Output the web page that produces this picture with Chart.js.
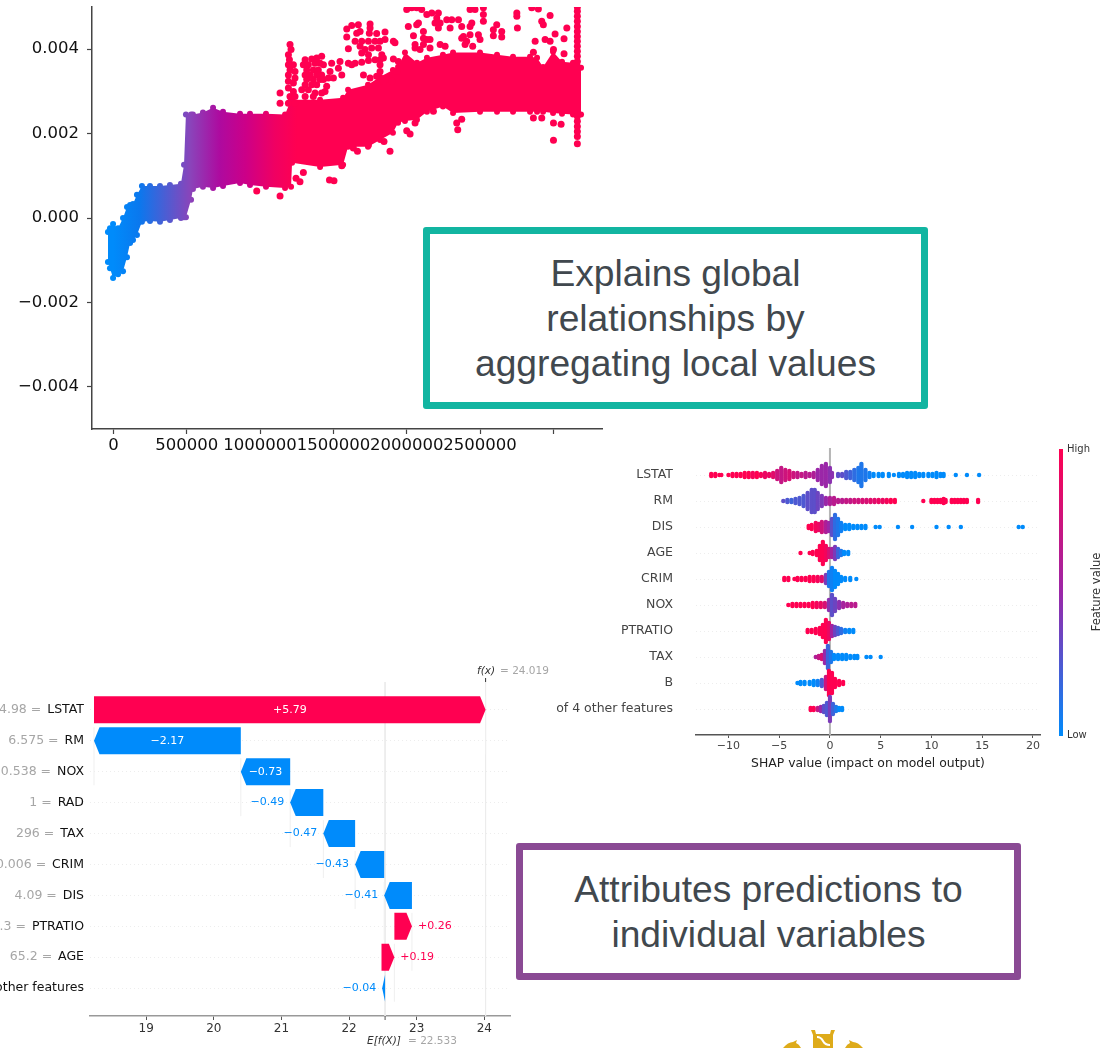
<!DOCTYPE html>
<html>
<head>
<meta charset="utf-8">
<title>SHAP charts</title>
<script src="https://cdn.jsdelivr.net/npm/chart.js@4/dist/chart.umd.min.js"></script>
<style>
html, body { margin: 0; padding: 0; background: #fff; }
body { position: relative; width: 1114px; height: 1048px; overflow: hidden; }
.plot { position: absolute; filter: blur(0.6px); }
.plot canvas { display: block; }
.box { position: absolute; box-sizing: border-box; background: #fff; border-radius: 3px;
  font-family: "Liberation Sans", Arial, sans-serif; color: #41484e; text-align: center; }
#box-global { left: 423px; top: 227px; width: 505px; height: 182px; border: 7px solid #12b5a1;
  font-size: 37.2px; line-height: 45px; padding-top: 17px; }
#box-local { left: 516px; top: 843px; width: 505px; height: 137px; border: 7px solid #8a4a94;
  font-size: 37.2px; line-height: 45px; padding-top: 17px; }
.cbar { position: absolute; left: 1059px; top: 449px; width: 4px; height: 287px;
  background: linear-gradient(#ff0051, #9b27a8 50%, #008bfb); }
.small { position: absolute; font: 10px "DejaVu Sans", sans-serif; color: #333; }
#feature-label { left: 1051px; top: 585px; width: 90px; text-align: center; transform: rotate(-90deg); font-size: 11.5px; }
svg { position: absolute; left: 780px; top: 1025px; }
</style>
</head>
<body>
<div class="plot" style="left:0;top:0"><canvas id="dependence" width="620" height="470"></canvas></div>
<div class="plot" style="left:0;top:660px"><canvas id="waterfall" width="570" height="388"></canvas></div>
<div class="plot" style="left:540px;top:430px"><canvas id="beeswarm" width="520" height="350"></canvas></div>
<div class="cbar"></div>
<div class="small" style="left:1067px;top:443px">High</div>
<div class="small" style="left:1067px;top:729px">Low</div>
<div class="small" id="feature-label">Feature value</div>
<div class="box" id="box-global">Explains global<br>relationships by<br>aggregating local values</div>
<div class="box" id="box-local">Attributes predictions to<br>individual variables</div>
<svg width="90" height="23" viewBox="0 0 90 23">
  <path d="M31 5h4l1 4h14l1-4h4l-2 5v13H33V10z M3 23q5-6 10-6l4-2-1 3q3 1 5 5z M83 23q-5-6-10-6l-4-2 1 3q-3 1-5 5z" fill="#deab1a"/>
  <path d="M37 12q4 0 6 4t7 4" fill="none" stroke="#fff" stroke-width="2"/>
</svg>

<script>
// top plot: dependence scatter
const depTicksX = [0, 500000, 1000000, 1500000, 2000000, 2500000, 3000000];
const depTickLabelsX = ["0", "500000", "1000000", "1500000", "2000000", "2500000", ""];
const depTicksY = [-0.004, -0.002, 0, 0.002, 0.004];

const bandX = [-38000, -24000, -3000, 31000, 65000, 92000, 113000, 133000, 160000, 194000, 249000, 317000, 385000, 460000, 481000, 494000, 529000, 542000, 610000, 679000, 747000, 863000, 931000, 1040000, 1170000, 1211000, 1218000, 1409000, 1566000, 1600000, 1736000, 1818000, 1906000, 1941000, 1988000, 2070000, 2138000, 2247000, 2316000, 2500000, 2616000, 2725000, 2841000, 2889000, 2930000, 2998000, 3059000, 3134000, 3189000];
const bandUpper = [-0.00033, -0.00024, -0.00014, -0.00024, 0, 0.00026, 0.00031, 0.00033, 0.00055, 0.00076, 0.00076, 0.00076, 0.00078, 0.00081, 0.00126, 0.00245, 0.00245, 0.00245, 0.0025, 0.00261, 0.00252, 0.00247, 0.00247, 0.00247, 0.00245, 0.0028, 0.0028, 0.0028, 0.00285, 0.00304, 0.00316, 0.00335, 0.00351, 0.00358, 0.00392, 0.00368, 0.0038, 0.00387, 0.00392, 0.00392, 0.00387, 0.00382, 0.00382, 0.0038, 0.00358, 0.00394, 0.0037, 0.00368, 0.00356];
const bandLower = [-0.00104, -0.00119, -0.00142, -0.00133, -0.00126, -0.00093, -0.00059, -0.00052, -0.0004, -0.00009, -0.00007, -0.00009, -0.00005, 0, 0.00002, 0.00002, 0.00043, 0.00069, 0.00074, 0.00071, 0.00076, 0.00083, 0.00078, 0.00074, 0.00071, 0.00074, 0.00131, 0.00121, 0.00126, 0.00169, 0.00169, 0.00185, 0.00202, 0.00226, 0.0023, 0.00233, 0.00252, 0.00264, 0.00249, 0.00252, 0.00252, 0.00252, 0.00252, 0.00252, 0.00252, 0.00249, 0.00247, 0.00245, 0.00245];

const depOutliers = [
  [2000000,0.00494],[2034000,0.00498],[2068000,0.00498],[2102000,0.00494],[2080000,0.00462],[2068000,0.00458],[2137000,0.00482],[2171000,0.00486],[2216000,0.00486],[2205000,0.00474],[2193000,0.00462],[2228000,0.00462],[2216000,0.0045],[2273000,0.0047],[2307000,0.0047],[2296000,0.0045],[2353000,0.0047],[2375000,0.00454],[2432000,0.00494],[2466000,0.00494],[2523000,0.00498],[2523000,0.00482],[2523000,0.00466],[2444000,0.00462],[2432000,0.00454],
  [2751000,0.00486],[2751000,0.00478],[2755000,0.0045],[2853000,0.00498],[2898000,0.00495],[2978000,0.0048],[2921000,0.00466],[2932000,0.00458],[3092000,0.0045],[2614000,0.00458],[2591000,0.00446],[2648000,0.00442],[2648000,0.00429],[2591000,0.00432],[3012000,0.00436],[3073000,0.00425],[2876000,0.00419],[2944000,0.00423],[2978000,0.00419],[3073000,0.00389],[2864000,0.00393],[3001000,0.00399],
  [2011000,0.00454],[2046000,0.00432],[2114000,0.00442],[2114000,0.00426],[2137000,0.00423],[2057000,0.00411],[2057000,0.00403],[2114000,0.00411],[2159000,0.00423],[2159000,0.00403],[2091000,0.00399],[2228000,0.00411],[2262000,0.00407],[2387000,0.0043],[2432000,0.00434],[2375000,0.00426],[2409000,0.00419],[2489000,0.00434],[2500000,0.00423],[2450000,0.00407],[2398000,0.00411],
  [1591000,0.00448],[1625000,0.00456],[1670000,0.00458],[1682000,0.00442],[1591000,0.00429],[1659000,0.00438],[1750000,0.0046],[1750000,0.0045],[1745000,0.00438],[1795000,0.00437],[1852000,0.00441],[1648000,0.00419],[1693000,0.00419],[1739000,0.00419],[1784000,0.00419],[1818000,0.00419],[1852000,0.00423],[1909000,0.00419],[1920000,0.00415],[1602000,0.00401],[1682000,0.00407],[1716000,0.00399],[1761000,0.00403],[1807000,0.00403],[1693000,0.00391],[1830000,0.00387],[1739000,0.00387],
  [1488000,0.00367],[1545000,0.00371],[1602000,0.00367],[1648000,0.00367],[1693000,0.00369],[1739000,0.00373],[1784000,0.00375],[1818000,0.00375],[1841000,0.00379],[1909000,0.00377],[1943000,0.00371],[1477000,0.00347],[1534000,0.00355],[1500000,0.00332],[1466000,0.00332],[1625000,0.00363],[1557000,0.00339],[1705000,0.00339],[1750000,0.00332],[1818000,0.00363],[1818000,0.00347],[1795000,0.00336],[1875000,0.00328],[1898000,0.00324],[1932000,0.00347],[1841000,0.00324],
  [1307000,0.00375],[1352000,0.00377],[1386000,0.00379],[1420000,0.00383],[1295000,0.00363],[1329000,0.00363],[1375000,0.00367],[1409000,0.00367],[1432000,0.00363],[1318000,0.00351],[1363000,0.00351],[1397000,0.00351],[1307000,0.00339],[1341000,0.00339],[1386000,0.00339],[1420000,0.00339],[1318000,0.00328],[1363000,0.00328],[1409000,0.00328],[1432000,0.00328],[1307000,0.00316],[1352000,0.00316],[1386000,0.00316],[1284000,0.00304],[1329000,0.00304],[1375000,0.00296],[1420000,0.00296],[1307000,0.00288],[1363000,0.00288],[1454000,0.00312],[1443000,0.003],
  [1204000,0.00411],[1211000,0.00399],[1193000,0.00387],[1200000,0.00375],[1193000,0.00363],[1227000,0.00363],[1204000,0.00351],[1238000,0.00347],[1193000,0.00339],[1238000,0.00332],[1193000,0.00324],[1227000,0.0032],[1193000,0.00308],[1227000,0.003],[1204000,0.00288],[1238000,0.00288],[1193000,0.00272],[1238000,0.00272],[1136000,0.00296],[1136000,0.00272],
  [1136000,0.00052],[1245000,0.00094],[1272000,0.00086],[1295000,0.00108],[1473000,0.0009],[1504000,0.00088],[1557000,0.00124],[1636000,0.00166],[1664000,0.00158],[1739000,0.00173],[1886000,0.00158],[1845000,0.00181],[2000000,0.00207],[2023000,0.00199],[2057000,0.00225],[2375000,0.00234],[2341000,0.00225],[2348000,0.00209],[2864000,0.00237],[2921000,0.00237],[3001000,0.00225],[3053000,0.00222],[3001000,0.00184],[2182000,0.00253],[977000,0.00064],
  [3164000,0.005],[3164000,0.0049],[3164000,0.00478],[3164000,0.00466],[3164000,0.00454],[3164000,0.00442],[3164000,0.0043],[3164000,0.00419],[3164000,0.00407],[3164000,0.00395],[3164000,0.00383],[3164000,0.00371],[3164000,0.00359],[3164000,0.00241],[3164000,0.00229],[3164000,0.00217],[3164000,0.00205],[3164000,0.00193],[3164000,0.00176]
];

// bottom left plot: waterfall
const wfFeatures = ["LSTAT", "RM", "NOX", "RAD", "TAX", "CRIM", "DIS", "PTRATIO", "AGE", "4 other features"];
const wfValues = ["4.98", "6.575", "0.538", "1", "296", "0.006", "4.09", "15.3", "65.2", ""];
const wfStart = [18.229, 20.4, 21.13, 21.62, 22.09, 22.52, 22.93, 22.67, 22.48, 22.533];
const wfEnd = [24.019, 18.229, 20.4, 21.13, 21.62, 22.09, 22.52, 22.93, 22.67, 22.49];
const wfLabels = ["+5.79", "\u22122.17", "\u22120.73", "\u22120.49", "\u22120.47", "\u22120.43", "\u22120.41", "+0.26", "+0.19", "\u22120.04"];
const wfTicks = [19, 20, 21, 22, 23, 24];
const fxValue = 24.019;
const baseValue = 22.533;

// right plot: beeswarm, each column is [shap value, dots stacked, feature value]
const bsFeatures = ["LSTAT", "RM", "DIS", "AGE", "CRIM", "NOX", "PTRATIO", "TAX", "B", "of 4 other features"];
const bsTicks = [-10, -5, 0, 5, 10, 15, 20];
const lstatCols = [[-11.7,2,1],[-11.3,2,1],[-10.9,1,1],[-10.7,1,1],[-10,1,1],[-9.6,2,1],[-9.2,2,1],[-8.8,2,1],[-8.4,3,1],[-8,3,1],[-7.6,3,.95],[-7.2,3,1],[-6.8,2,.95],[-6.4,3,.9],[-6,2,.9],[-5.6,3,.85],[-5.2,5,.75],[-4.8,8,.7],[-4.4,6,.75],[-4,5,.8],[-3.6,3,.75],[-3.2,3,.7],[-2.8,2,.7],[-2.4,3,.65],[-2,2,.65],[-1.6,3,.6],[-1.2,6,.5],[-.8,10,.5],[-.4,12,.5],[0,8,.45],[.2,3,.45],[.8,2,.3],[1.2,2,.3],[1.6,4,.25],[2,4,.2],[2.4,6,.15],[2.8,8,.1],[3.1,12,.1],[3.5,6,.1],[3.9,3,.05],[4.3,2,0],[4.8,2,0],[5.2,2,0],[5.8,2,0],[6.3,1,0],[6.8,2,0],[7.2,2,0],[7.6,3,0],[8,3,0],[8.4,3,0],[8.8,2,0],[9.2,2,0],[9.7,2,0],[10.1,2,0],[10.5,3,0],[10.9,2,0],[11.2,2,0],[12.4,1,0],[13.5,1,0],[14.7,1,0]];
const rmCols = [[-4.6,1,.3],[-4.2,2,.25],[-3.8,2,.2],[-3.4,3,.25],[-3,4,.25],[-2.6,6,.25],[-2.2,9,.3],[-1.8,12,.3],[-1.5,12,.3],[-1.2,9,.35],[-.8,6,.4],[-.4,4,.5],[0,4,.6],[.4,4,.65],[.8,2,.65],[1.2,2,.65],[1.6,2,.7],[2,2,.7],[2.4,2,.75],[2.8,2,.75],[3.2,2,.8],[3.6,2,.8],[4,2,.85],[4.4,2,.85],[4.8,2,.9],[5.2,2,.9],[5.6,2,.95],[6,2,1],[6.4,2,1],[9.2,1,1],[10,2,1],[10.3,2,1],[10.6,2,1],[10.9,2,1],[11.2,3,1],[11.4,2,1],[12,2,1],[12.3,2,1],[12.6,2,1],[12.9,2,1],[13.2,2,1],[13.5,2,1],[14.6,2,1]];
const disCols = [[-2.1,2,1],[-1.8,3,1],[-1.4,5,.95],[-1.1,4,.9],[-.8,6,.75],[-.4,6,.6],[-.1,5,.5],[.2,9,.3],[.5,13,.15],[.8,9,.1],[1.1,5,.05],[1.5,3,0],[1.9,3,0],[2.3,2,0],[2.7,2,0],[3.1,2,0],[3.5,2,0],[4.5,1,0],[4.9,1,0],[6.7,1,0],[8.1,1,0],[10.5,1,0],[11.7,1,0],[12.9,1,0],[18.6,1,0],[19,1,0]];
const ageCols = [[-2.9,1,1],[-2,1,1],[-1.7,2,1],[-1.3,3,1],[-1,8,1],[-.7,12,1],[-.4,8,.95],[-.1,5,.8],[.2,5,.55],[.5,7,.4],[.8,5,.2],[1.1,3,.1],[1.4,2,0],[1.8,2,0]];
const crimCols = [[-4.5,2,1],[-4.1,2,1],[-3.5,1,1],[-3.2,2,1],[-2.8,2,1],[-2.4,2,1],[-2,3,1],[-1.6,3,1],[-1.2,3,.95],[-.8,3,.85],[-.4,5,.4],[-.1,8,.1],[.2,12,.05],[.5,9,0],[.8,6,0],[1.1,3,0],[1.5,2,0],[2,2,0],[2.6,1,0]];
const noxCols = [[-4.1,1,1],[-3.7,2,1],[-3.3,2,1],[-2.9,2,1],[-2.5,2,1],[-2.1,2,1],[-1.7,3,1],[-1.3,3,.95],[-.9,3,.9],[-.5,3,.8],[-.1,6,.45],[.2,11,.3],[.5,7,.35],[.9,4,.45],[1.3,3,.55],[1.7,2,.6],[2.1,2,.65],[2.5,2,.65]];
const ptratioCols = [[-2.2,2,1],[-1.8,2,1],[-1.4,3,1],[-1,4,1],[-.7,7,1],[-.4,12,1],[-.1,9,.9],[.2,6,.55],[.5,5,.35],[.8,4,.25],[1.1,3,.15],[1.5,2,.05],[1.9,2,0],[2.3,2,0]];
const taxCols = [[-1.4,1,.6],[-1.1,2,.7],[-.8,3,.8],[-.5,7,.5],[-.2,12,.2],[.1,6,.1],[.4,3,0],[.8,3,0],[1.2,3,0],[1.6,3,0],[2,2,0],[2.4,2,0],[2.7,2,0],[3.6,1,0],[4,1,0],[5,1,0]];
const bCols = [[-3.2,1,0],[-2.9,2,0],[-2.5,2,0],[-2,2,0],[-1.6,3,0],[-1.2,3,.05],[-.8,4,.25],[-.4,7,.75],[-.1,13,1],[.2,11,1],[.5,5,1],[.9,3,1],[1.3,2,1]];
const otherCols = [[-1.9,2,1],[-1.6,2,1],[-1.2,2,.7],[-.9,3,.5],[-.6,4,.3],[-.3,7,.25],[0,13,.4],[.3,6,.2],[.6,3,.1],[.9,2,0],[1.2,2,0]];
const bsRows = [lstatCols, rmCols, disCols, ageCols, crimCols, noxCols, ptratioCols, taxCols, bCols, otherCols];

const RED = "#ff0051";
const BLUE = "#008bfb";
const AXIS_FONT = "DejaVu Sans";

// same blue > purple > red ramp shap uses
function featureColor(v) {
    let a = v < 0.5 ? [0, 139, 251] : [155, 39, 168];
    let b = v < 0.5 ? [155, 39, 168] : [255, 0, 81];
    let t = v < 0.5 ? v * 2 : (v - 0.5) * 2;
    return `rgb(${a.map((c, i) => Math.round(c + (b[i] - c) * t)).join(",")})`;
}

function bandGradient(chart) {
    let xs = chart.scales.x;
    if (!xs) return RED;
    let x0 = xs.getPixelForValue(0);
    let x1 = xs.getPixelForValue(1250000);
    if (!isFinite(x0) || !isFinite(x1)) return RED;
    let g = chart.ctx.createLinearGradient(x0, 0, x1, 0);
    g.addColorStop(0, BLUE);
    g.addColorStop(0.14, "#0a78ee");
    g.addColorStop(0.42, "#8a44ba");
    g.addColorStop(0.58, "#ae0a9f");
    g.addColorStop(0.72, "#cc0088");
    g.addColorStop(0.88, "#f00062");
    g.addColorStop(1, RED);
    return g;
}

// y axes keep the plot area exactly where the labels were not asked to move it
function fitY(width) {
    return s => { s.width = width; s.paddingTop = 0; s.paddingBottom = 0; };
}

let depChart = new Chart(document.getElementById("dependence"), {
    type: "scatter",
    data: {
        datasets: [
            {
                data: bandX.map((x, i) => ({ x: x, y: bandUpper[i] })), showLine: true, borderWidth: 0,
                pointRadius: 3, pointBackgroundColor: c => bandGradient(c.chart), pointBorderWidth: 0,
                backgroundColor: c => bandGradient(c.chart), order: 2
            },
            {
                data: bandX.map((x, i) => ({ x: x, y: bandLower[i] })), showLine: true, borderWidth: 0, fill: "-1",
                pointRadius: 3, pointBackgroundColor: c => bandGradient(c.chart), pointBorderWidth: 0,
                backgroundColor: c => bandGradient(c.chart), order: 2
            },
            {
                data: depOutliers.map(p => ({ x: p[0], y: p[1] })), pointRadius: 3.5, pointBorderWidth: 0,
                pointBackgroundColor: RED, order: 1
            }
        ]
    },
    options: {
        responsive: false, animation: false,
        layout: { padding: { top: 7, right: 18, bottom: 0, left: 0 } },
        plugins: { legend: { display: false }, tooltip: { enabled: false } },
        scales: {
            x: {
                type: "linear", min: -146650, max: 3332000,
                afterBuildTicks: s => { s.ticks = depTicksX.map(v => ({ value: v })); },
                afterFit: s => { s.height = 41; },
                grid: { drawOnChartArea: false, tickLength: 5, tickColor: "#444", tickWidth: 1.2 },
                border: { color: "#444", width: 1.5 },
                ticks: { autoSkip: false, maxRotation: 0, padding: 2, color: "#111", font: { family: AXIS_FONT, size: 16.5 },
                    callback: v => depTickLabelsX[depTicksX.indexOf(v)] }
            },
            y: {
                min: -0.005, max: 0.005,
                afterBuildTicks: s => { s.ticks = depTicksY.map(v => ({ value: v })); },
                afterFit: fitY(92),
                grid: { drawOnChartArea: false, tickLength: 5, tickColor: "#444", tickWidth: 1.2 },
                border: { color: "#444", width: 1.5 },
                ticks: { padding: 8, color: "#111", font: { family: AXIS_FONT, size: 16.5 },
                    callback: v => v.toFixed(3).replace("-", "\u2212") }
            }
        }
    }
});
depChart.update();

// draws the waterfall bars as arrows, and the grey parts of the labels
const waterfallPlugin = {
    id: "waterfallArrows",
    beforeDatasetDraw(chart, args) {
        if (args.index !== 0) return;
        let ctx = chart.ctx;
        let bars = chart.getDatasetMeta(0).data;
        bars.forEach((bar, i) => {
            let h = 13.5;
            let from = chart.scales.x.getPixelForValue(wfStart[i]);
            let to = chart.scales.x.getPixelForValue(wfEnd[i]);
            let dir = to > from ? 1 : -1;
            let tip = Math.min(5.5, Math.abs(to - from));
            ctx.save();
            // faint connector down to the next row
            if (i < bars.length - 1) {
                ctx.strokeStyle = "#efefef";
                ctx.lineWidth = 1;
                ctx.beginPath();
                ctx.moveTo(to, bar.y - h);
                ctx.lineTo(to, bar.y + 31 + h);
                ctx.stroke();
            }
            ctx.fillStyle = wfEnd[i] > wfStart[i] ? RED : BLUE;
            ctx.beginPath();
            ctx.moveTo(from, bar.y - h);
            ctx.lineTo(to - dir * tip, bar.y - h);
            ctx.lineTo(to, bar.y);
            ctx.lineTo(to - dir * tip, bar.y + h);
            ctx.lineTo(from, bar.y + h);
            ctx.closePath();
            ctx.fill();
            ctx.restore();
        });
        return false;
    },
    afterDraw(chart) {
        let ctx = chart.ctx;
        let xs = chart.scales.x;
        let ys = chart.scales.y;
        ctx.save();
        ctx.textBaseline = "middle";
        // value text inside or beside each arrow
        ctx.font = `11px "${AXIS_FONT}"`;
        wfLabels.forEach((txt, i) => {
            let y = ys.getPixelForValue(i);
            let lo = xs.getPixelForValue(Math.min(wfStart[i], wfEnd[i]));
            let hi = xs.getPixelForValue(Math.max(wfStart[i], wfEnd[i]));
            let w = ctx.measureText(txt).width;
            if (hi - lo > w + 10) {
                ctx.fillStyle = "#fff";
                ctx.textAlign = "center";
                ctx.fillText(txt, (lo + hi) / 2, y);
            } else if (wfEnd[i] > wfStart[i]) {
                ctx.fillStyle = RED;
                ctx.textAlign = "left";
                ctx.fillText(txt, hi + 6, y);
            } else {
                ctx.fillStyle = BLUE;
                ctx.textAlign = "right";
                ctx.fillText(txt, lo - 6, y);
            }
        });
        // grey "value =" in front of each feature name
        ctx.font = `12.5px "${AXIS_FONT}"`;
        ctx.textAlign = "right";
        ctx.fillStyle = "#a6a6a6";
        wfFeatures.forEach((name, i) => {
            if (!wfValues[i]) return;
            ctx.fillText(wfValues[i] + " = ", 84 - ctx.measureText(name).width - 2, ys.getPixelForValue(i));
        });
        // f(x) and E[f(X)]
        ctx.textAlign = "left";
        let fx = xs.getPixelForValue(fxValue);
        ctx.fillStyle = "#333";
        ctx.font = `italic 10.5px "${AXIS_FONT}"`;
        ctx.fillText("f(x)", 477, 11);
        ctx.font = `10.5px "${AXIS_FONT}"`;
        ctx.fillStyle = "#a6a6a6";
        ctx.fillText("= " + fxValue, 500, 11);
        ctx.fillStyle = "#333";
        ctx.fillRect(fx - 0.5, 18, 1, 4);
        ctx.font = `italic 10.5px "${AXIS_FONT}"`;
        ctx.fillText("E[f(X)]", 367, 381);
        ctx.font = `10.5px "${AXIS_FONT}"`;
        ctx.fillStyle = "#a6a6a6";
        ctx.fillText("= " + baseValue, 408, 381);
        ctx.fillStyle = "#555";
        ctx.fillRect(xs.getPixelForValue(baseValue) - 0.5, 356, 1, 4);
        ctx.restore();
    }
};

new Chart(document.getElementById("waterfall"), {
    type: "bar",
    plugins: [waterfallPlugin],
    data: {
        datasets: [
            {
                data: wfStart.map((s, i) => ({ x: [s, wfEnd[i]], y: i })), barThickness: 27,
                backgroundColor: wfStart.map((s, i) => wfEnd[i] > s ? RED : BLUE)
            },
            { type: "scatter", data: [{ x: fxValue, y: -0.9 }, { x: fxValue, y: 9.9 }], showLine: true, pointRadius: 0, borderColor: "#ececec", borderWidth: 1 },
            { type: "scatter", data: [{ x: baseValue, y: -0.9 }, { x: baseValue, y: 9.9 }], showLine: true, pointRadius: 0, borderColor: "#ececec", borderWidth: 1 }
        ]
    },
    options: {
        indexAxis: "y", responsive: false, animation: false,
        layout: { padding: { top: 22, right: 60, bottom: 0, left: 0 } },
        plugins: { legend: { display: false }, tooltip: { enabled: false } },
        scales: {
            x: {
                type: "linear", min: 18.17, max: 24.38,
                afterBuildTicks: s => { s.ticks = wfTicks.map(v => ({ value: v })); },
                afterFit: s => { s.height = 32; },
                grid: { drawOnChartArea: false, tickLength: 4, tickColor: "#555" },
                border: { color: "#999", width: 1.5 },
                ticks: { padding: 2, color: "#333", font: { family: AXIS_FONT, size: 12 } }
            },
            y: {
                type: "linear", min: -0.9, max: 9.9, reverse: true, offset: false,
                afterBuildTicks: s => { s.ticks = wfFeatures.map((f, i) => ({ value: i })); },
                afterFit: fitY(90),
                grid: { color: "#ededed", tickLength: 0, drawTicks: false, offset: false },
                border: { display: false, dash: [1, 3] },
                ticks: { padding: 6, color: "#111", font: { family: AXIS_FONT, size: 12.5 }, autoSkip: false,
                    callback: v => wfFeatures[v] }
            }
        }
    }
});

// stack each column into dots around its row
let bsPoints = [];
bsRows.forEach((cols, row) => {
    cols.forEach(col => {
        for (let k = 0; k < col[1]; k++) {
            bsPoints.push({ x: col[0], y: row + (k - (col[1] - 1) / 2) * 0.077, f: col[2] });
        }
    });
});

new Chart(document.getElementById("beeswarm"), {
    type: "scatter",
    data: {
        datasets: [
            { data: [{ x: 0, y: -1.04 }, { x: 0, y: 10 }], showLine: true, pointRadius: 0, borderColor: "#b5b5b5", borderWidth: 2, order: 2 },
            {
                data: bsPoints, pointRadius: 2.2, pointBorderWidth: 0, order: 1,
                pointBackgroundColor: c => c.raw ? featureColor(c.raw.f) : BLUE
            }
        ]
    },
    options: {
        responsive: false, animation: false,
        layout: { padding: { top: 18, right: 20, bottom: 9, left: 0 } },
        plugins: { legend: { display: false }, tooltip: { enabled: false } },
        scales: {
            x: {
                type: "linear", min: -13.2, max: 20.7,
                afterBuildTicks: s => { s.ticks = bsTicks.map(v => ({ value: v })); },
                afterFit: s => { s.height = 36; },
                grid: { drawOnChartArea: false, tickLength: 3, tickColor: "#555" },
                border: { color: "#555", width: 1.5 },
                ticks: { padding: 2, color: "#444", font: { family: AXIS_FONT, size: 11 },
                    callback: v => String(v).replace("-", "\u2212") },
                title: { display: true, text: "SHAP value (impact on model output)", color: "#222", padding: { top: 1, bottom: 0 }, font: { family: AXIS_FONT, size: 12.4 } }
            },
            y: {
                type: "linear", min: -1.04, max: 10, reverse: true,
                afterBuildTicks: s => { s.ticks = bsFeatures.map((f, i) => ({ value: i })); },
                afterFit: fitY(156),
                grid: { color: "#ededed", tickLength: 0, drawTicks: false },
                border: { display: false, dash: [1, 3] },
                ticks: { padding: 23, color: "#444", font: { family: AXIS_FONT, size: 12.5 }, autoSkip: false,
                    callback: v => bsFeatures[v] }
            }
        }
    }
});
</script>
</body>
</html>
